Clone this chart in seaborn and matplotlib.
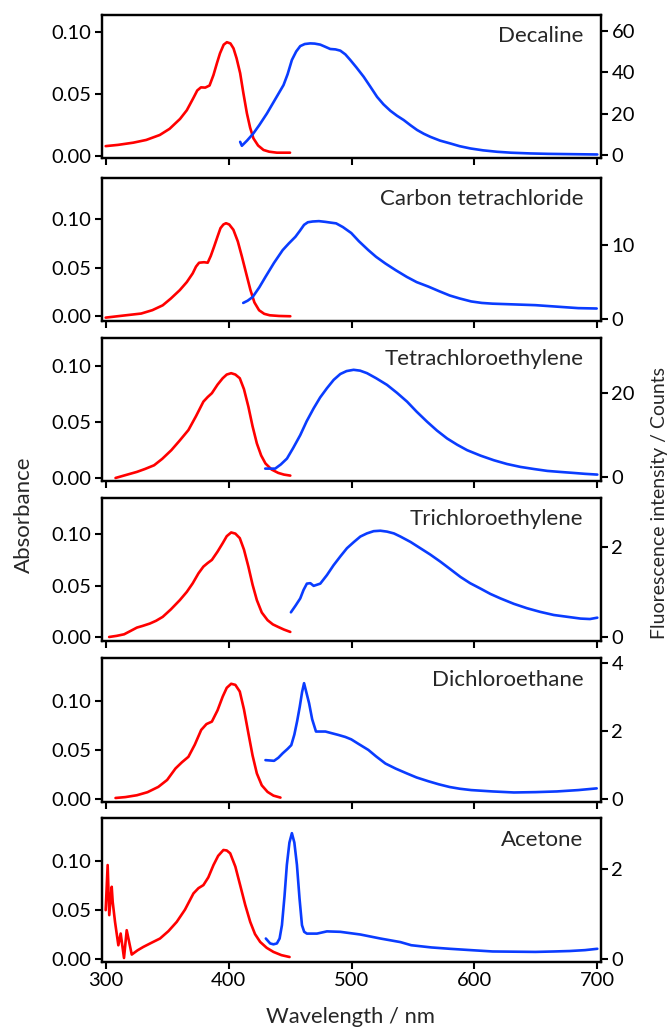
import numpy as np
import pandas as pd
import matplotlib
matplotlib.use("Agg")
import matplotlib.pyplot as plt
import seaborn as sns

sns.set_style("ticks")
plt.rcParams['font.family'] = ['Lato', 'DejaVu Sans']

solvents = ["Decaline", "Carbon tetrachloride", "Tetrachloroethylene",
            "Trichloroethylene", "Dichloroethane", "Acetone"]

# ---- Absorbance (red) ----
abs_wl_decaline = [300, 310, 322.5, 333, 344, 352, 360.5, 366, 371.4, 374.5, 377.5, 381, 384.5, 387.7, 390.5, 393, 396, 398.6, 401.5, 404, 406.5, 409.4, 412, 414.9, 417.5, 420.2, 424, 428.4, 433, 439.3, 450]
abs_decaline = [0.008, 0.009, 0.0108, 0.013, 0.017, 0.022, 0.030, 0.037, 0.047, 0.053, 0.0555, 0.0553, 0.057, 0.0655, 0.075, 0.083, 0.090, 0.092, 0.091, 0.087, 0.079, 0.067, 0.051, 0.0345, 0.023, 0.0143, 0.0085, 0.0049, 0.0035, 0.0027, 0.0027]

abs_wl_ccl4 = [300, 315, 328.9, 338, 346.4, 353, 360.3, 366, 370.8, 373.5, 376, 380, 383, 385.5, 388.2, 391, 393.4, 395.8, 397.9, 400.5, 403.9, 407.5, 410.9, 414.5, 417.8, 421, 424.8, 429, 433.5, 441, 450.2]
abs_ccl4 = [-0.0017, 0.0005, 0.0025, 0.006, 0.011, 0.018, 0.0267, 0.035, 0.044, 0.051, 0.055, 0.0555, 0.055, 0.062, 0.0716, 0.082, 0.0907, 0.0945, 0.0958, 0.0945, 0.089, 0.077, 0.061, 0.043, 0.0267, 0.014, 0.0059, 0.0022, 0.0007, 0.0, -0.0003]

abs_wl_tce4 = [308, 316, 325.4, 332, 339.4, 346, 353.4, 360, 367.3, 373.5, 379.5, 383, 386.4, 391, 395.2, 398.5, 402.1, 405.5, 409.1, 412.5, 416.1, 419.5, 423, 426.5, 430, 435, 440.4, 445, 450.2]
abs_tce4 = [0.000, 0.0025, 0.0054, 0.008, 0.0113, 0.017, 0.0247, 0.033, 0.0426, 0.055, 0.0679, 0.072, 0.0754, 0.083, 0.0887, 0.092, 0.0932, 0.092, 0.0887, 0.079, 0.0634, 0.046, 0.0307, 0.020, 0.0129, 0.0075, 0.0045, 0.003, 0.0021]

abs_wl_tce3 = [302.8, 309, 315, 320, 325.4, 330, 335.9, 341, 346.4, 353, 360.3, 366, 370.8, 375.5, 379.5, 383, 386.4, 391, 395.2, 398.5, 402.1, 405.5, 409.1, 412.5, 416.1, 419.5, 423, 427, 431.7, 436, 440.4, 445, 450.2]
abs_tce3 = [0.0003, 0.0014, 0.0029, 0.006, 0.0094, 0.011, 0.0133, 0.016, 0.0198, 0.027, 0.036, 0.044, 0.0523, 0.062, 0.0685, 0.072, 0.075, 0.083, 0.0912, 0.098, 0.1016, 0.1005, 0.0961, 0.085, 0.0685, 0.051, 0.036, 0.024, 0.0166, 0.0125, 0.010, 0.0075, 0.0052]

abs_wl_dce = [308, 316, 325.4, 334, 342.8, 350, 356.8, 362, 367.3, 372.5, 377.7, 382, 386.4, 391, 395.2, 398.5, 402.1, 405.5, 409.1, 412.5, 416.1, 419.5, 423, 427, 431.7, 436.5, 442.2]
abs_dce = [0.0006, 0.0015, 0.0034, 0.0065, 0.0119, 0.019, 0.0307, 0.037, 0.0426, 0.055, 0.070, 0.076, 0.0785, 0.090, 0.104, 0.113, 0.1171, 0.116, 0.1092, 0.091, 0.0666, 0.044, 0.0256, 0.0135, 0.0068, 0.003, 0.001]

abs_wl_acetone = [300, 301.6, 302.9, 304.9, 305.7, 307.6, 310.3, 312.2, 314.9, 317.1, 321.2, 326, 330.6, 337, 344.2, 351, 357.8, 364.5, 371.4, 375.5, 379.5, 383.5, 387.7, 391.5, 395.8, 398.5, 401.3, 405.5, 409.4, 413.5, 417.6, 421.5, 425.7, 431, 436.5, 443, 449.6]
abs_acetone = [0.0495, 0.0956, 0.0444, 0.0734, 0.058, 0.0375, 0.0136, 0.0256, 0.0006, 0.029, 0.0041, 0.0085, 0.0119, 0.016, 0.0205, 0.028, 0.0375, 0.050, 0.0666, 0.072, 0.0751, 0.083, 0.0956, 0.105, 0.111, 0.1105, 0.1076, 0.094, 0.0751, 0.055, 0.0375, 0.025, 0.017, 0.011, 0.0068, 0.0035, 0.0016]

# ---- Fluorescence (blue) ----
fl_wl_decaline = [409.4, 410.8, 415, 420.2, 425, 431.2, 438, 444.7, 448, 451.5, 455, 458.3, 462, 466.4, 470, 474.6, 478.5, 482.7, 487, 490.9, 495, 499, 504, 509.9, 515, 520.8, 526, 531.6, 537, 542.5, 548, 553.4, 558.8, 564.2, 572, 580.5, 588, 596.8, 607, 618.5, 630, 645.7, 660, 672.8, 686, 700]
fl_decaline = [6.4, 4.5, 7.0, 10.5, 14.5, 20.1, 27.0, 33.8, 39.0, 45.9, 50.0, 52.6, 53.6, 53.9, 53.8, 53.3, 52.3, 51.2, 51.0, 50.4, 48.6, 45.9, 42.3, 37.8, 33.3, 28.1, 24.5, 21.4, 19.0, 16.9, 14.4, 12.1, 10.3, 8.8, 7.0, 5.6, 4.3, 3.2, 2.3, 1.6, 1.15, 0.8, 0.6, 0.5, 0.4, 0.3]

fl_wl_ccl4 = [411.9, 415.5, 419.6, 425, 430, 437, 444, 449, 454.4, 458, 461.4, 464.5, 468.4, 473.5, 478.8, 483, 487.5, 493, 499.8, 506, 513.7, 520, 527.6, 536, 545, 553, 562.5, 571, 579.9, 588, 597.4, 606, 614.8, 632.2, 649.7, 667.1, 684.5, 699.5]
fl_ccl4 = [2.2, 2.5, 3.0, 4.3, 5.7, 7.6, 9.3, 10.2, 11.1, 11.9, 12.7, 13.05, 13.15, 13.2, 13.1, 13.0, 12.9, 12.4, 11.6, 10.5, 9.3, 8.4, 7.5, 6.6, 5.7, 5.0, 4.4, 3.8, 3.2, 2.8, 2.4, 2.2, 2.1, 2.0, 1.9, 1.7, 1.5, 1.45]

fl_wl_tce4 = [429.8, 437.9, 442.5, 447.5, 452.5, 458.3, 463.5, 469.2, 474.5, 480, 485.5, 490.9, 496, 501.7, 507, 512.6, 520, 528.9, 537, 545.2, 553, 561.5, 569.5, 577.8, 586, 594.1, 605, 615.8, 626.5, 637.5, 648.5, 659.3, 670, 681, 690, 700]
fl_tce4 = [2.0, 2.0, 3.0, 4.4, 6.9, 10.0, 13.3, 16.4, 19.0, 21.2, 23.2, 24.6, 25.3, 25.6, 25.4, 24.8, 23.6, 22.0, 20.1, 18.0, 15.6, 13.2, 11.1, 9.2, 7.7, 6.4, 5.1, 4.0, 3.1, 2.4, 1.9, 1.45, 1.2, 0.96, 0.75, 0.57]

fl_wl_tce3 = [450.7, 454.5, 458.3, 461, 463.7, 466.5, 469.2, 474.6, 480, 485.4, 491, 496.3, 502, 507.2, 512.5, 518, 523.5, 528.9, 534.5, 539.8, 548, 556, 564, 572.3, 580.5, 588.6, 596.5, 604.9, 613, 621.2, 632, 642.9, 653.5, 664.6, 675.5, 686.4, 694, 700]
fl_tce3 = [0.55, 0.7, 0.86, 1.05, 1.19, 1.2, 1.14, 1.19, 1.38, 1.60, 1.80, 1.98, 2.12, 2.24, 2.31, 2.36, 2.37, 2.35, 2.31, 2.24, 2.12, 1.98, 1.84, 1.68, 1.51, 1.34, 1.20, 1.08, 0.96, 0.86, 0.74, 0.64, 0.56, 0.49, 0.45, 0.41, 0.40, 0.43]

fl_wl_dce = [430, 437, 440.5, 444, 448, 451, 453.5, 455.8, 457.9, 459.8, 461.4, 463.2, 465.5, 468, 471.1, 478.8, 484, 489.3, 495, 499.8, 506, 513.7, 520, 527.6, 536, 545, 553, 562.5, 571, 579.9, 588, 597.4, 614.8, 632.2, 649.7, 667.1, 684.5, 699.5]
fl_dce = [1.15, 1.13, 1.22, 1.35, 1.48, 1.59, 1.9, 2.3, 2.72, 3.15, 3.41, 3.15, 2.82, 2.35, 1.99, 1.99, 1.94, 1.89, 1.83, 1.76, 1.62, 1.45, 1.26, 1.05, 0.90, 0.76, 0.64, 0.53, 0.44, 0.36, 0.31, 0.27, 0.23, 0.20, 0.21, 0.23, 0.27, 0.32]

fl_wl_acetone = [430.3, 433.8, 436.5, 439.3, 441.5, 443.4, 445.5, 447.4, 449.5, 451.5, 453.5, 455.6, 457.7, 459.7, 461.5, 463.7, 471.9, 480, 490.9, 507.2, 523.5, 539.8, 548.6, 565, 579.9, 597, 614.8, 632, 649.7, 665, 677.5, 690, 700]
fl_acetone = [0.45, 0.34, 0.32, 0.34, 0.45, 0.75, 1.4, 2.10, 2.6, 2.81, 2.6, 2.10, 1.35, 0.75, 0.6, 0.56, 0.56, 0.61, 0.60, 0.54, 0.45, 0.37, 0.30, 0.25, 0.22, 0.19, 0.16, 0.155, 0.15, 0.16, 0.17, 0.19, 0.22]

abs_data = [(abs_wl_decaline, abs_decaline), (abs_wl_ccl4, abs_ccl4), (abs_wl_tce4, abs_tce4),
            (abs_wl_tce3, abs_tce3), (abs_wl_dce, abs_dce), (abs_wl_acetone, abs_acetone)]
fl_data = [(fl_wl_decaline, fl_decaline), (fl_wl_ccl4, fl_ccl4), (fl_wl_tce4, fl_tce4),
           (fl_wl_tce3, fl_tce3), (fl_wl_dce, fl_dce), (fl_wl_acetone, fl_acetone)]

abs_ticks = [0.00, 0.05, 0.10]
abs_ticklabels = ["0.00", "0.05", "0.10"]
fl_ticks = [[0, 20, 40, 60], [0, 10], [0, 20], [0, 2], [0, 2, 4], [0, 2]]
x_ticks = [300, 400, 500, 600, 700]

# layout (pixel-based)
W, H = 671, 1032
tops = [15, 178, 338, 498, 658, 818]
bottoms = [158, 321, 481, 641, 802, 962]
ylims_abs = [(-0.0016, 0.114), (-0.0052, 0.1425), (-0.0027, 0.1245), (-0.0036, 0.135), (-0.0035, 0.1434), (-0.0035, 0.1437)]
ylims_fl = [(-1.4, 67.6), (-0.23, 19.0), (-0.96, 33.2), (-0.09, 3.10), (-0.08, 4.15), (-0.076, 3.15)]

RED = "#ff0000"
BLUE = "#0a3cff"
TICK_FS = 14.5
LABEL_FS = 16

fig = plt.figure(figsize=(W / 100, H / 100), dpi=100)
left, right = 102, 601

for i in range(6):
    ax = fig.add_axes([left / W, 1 - bottoms[i] / H, (right - left) / W, (bottoms[i] - tops[i]) / H])
    ax2 = ax.twinx()
    wl, a = abs_data[i]
    sns.lineplot(x=wl, y=a, ax=ax, color=RED, lw=1.9, sort=False)
    wl2, f = fl_data[i]
    sns.lineplot(x=wl2, y=f, ax=ax2, color=BLUE, lw=1.9, sort=False)
    ax.set_xlim(297, 703)
    ax.set_ylim(*ylims_abs[i])
    ax2.set_ylim(*ylims_fl[i])
    ax.set_yticks(abs_ticks)
    ax.set_yticklabels(abs_ticklabels)
    ax2.set_yticks(fl_ticks[i])
    ax.set_xticks(x_ticks)
    if i < 5:
        ax.set_xticklabels([])
    for a_ in (ax, ax2):
        for s in a_.spines.values():
            s.set_linewidth(1.6)
            s.set_color("black")
        a_.tick_params(direction="out", length=5, width=1.5, labelsize=TICK_FS, pad=2.5, colors="black")
    ax.set_xlabel("")
    ax.set_ylabel("")
    ax2.set_ylabel("")
    ax.text(0.965, 0.85, solvents[i], transform=ax.transAxes, ha="right", va="center", fontsize=LABEL_FS)

fig.text(24 / W, 1 - 515 / H, "Absorbance", rotation=90, ha="center", va="center", fontsize=16)
fig.text(659 / W, 1 - 503 / H, "Fluorescence intensity / Counts", rotation=90, ha="center", va="center", fontsize=14)
fig.text(351 / W, 1 - 1017 / H, "Wavelength / nm", ha="center", va="center", fontsize=15.8)

fig.savefig("out.png", dpi=100)
